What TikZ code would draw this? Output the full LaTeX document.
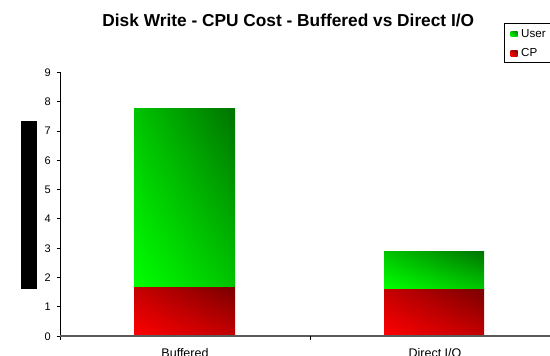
\documentclass[tikz,border=0pt]{standalone}
\usepackage{fontspec}
\setmainfont{Liberation Sans}
\usetikzlibrary{shadings}
\definecolor{rbright}{RGB}{255,0,0}
\definecolor{rmid}{RGB}{196,0,0}
\definecolor{rdark}{RGB}{120,0,0}
\definecolor{gbright}{RGB}{0,255,0}
\definecolor{gmid}{RGB}{0,195,0}
\definecolor{gdark}{RGB}{0,115,0}
\definecolor{axisgray}{RGB}{90,90,90}
\tikzset{
  redfill/.style={lower left=rbright, upper right=rdark, upper left=rmid, lower right=rmid},
  greenfill/.style={lower left=gbright, upper right=gdark, upper left=gmid, lower right=gmid},
  ylab/.style={anchor=base east, inner sep=0pt, font=\fontsize{11}{12}\selectfont},
  catlab/.style={anchor=base, inner sep=0pt, font=\fontsize{12.5}{14}\selectfont},
  leglab/.style={anchor=base west, inner sep=0pt, font=\fontsize{11.6}{13}\selectfont},
  ticks/.style={line width=0.8pt, black}
}
\begin{document}
\begin{tikzpicture}[x=1pt, y=-1pt]
\useasboundingbox (0,0) rectangle (550,356);
% title
\node[anchor=base, inner sep=0pt, font=\fontsize{17.3}{20}\selectfont\bfseries] (title) at (288.3,26.7) {Disk Write - CPU Cost - Buffered vs Direct I/O};
% black bar
\fill[black] (20.7,121) rectangle (36.7,289);
% bars
\shade[redfill] (134,286) rectangle (235,336);
\shade[greenfill] (134,108.3) rectangle (235,286);
\shade[redfill] (384,288) rectangle (484,336);
\shade[greenfill] (384,251) rectangle (484,288);
% axes
\draw[ticks] (60,72) -- (60,340);
\foreach \v in {0,...,9} {
  \draw[ticks] (56.5,{336-29.3*\v}) -- (60,{336-29.3*\v});
  \node[ylab] (y\v) at (51,{340-29.3*\v}) {\v};
}
\draw[axisgray, line width=1.3pt] (60,336) -- (560,336);
\draw[ticks] (310,336) -- (310,340);
% category labels
\node[catlab] (cb) at (185,357.4) {Buffered};
\node[catlab] (cd) at (435,357.4) {Direct I/O};
% legend
\draw[black, line width=0.8pt] (504,23.3) rectangle (562,62.3);
\shade[greenfill] (510.7,31) rectangle (517.7,36.7);
\shade[redfill] (510.7,50) rectangle (517.7,56);
\node[leglab] (lu) at (521,37.3) {User};
\node[leglab] (lc) at (521,56.7) {CP};
\end{tikzpicture}
\end{document}
